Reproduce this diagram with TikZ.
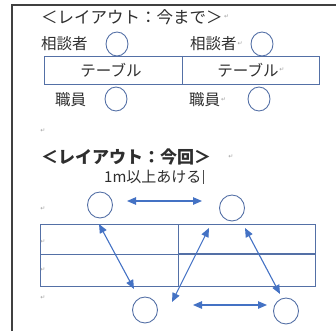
\documentclass[tikz,border=0pt]{standalone}
\usepackage{fontspec}
\setmainfont{Liberation Serif}
\newfontfamily\jp{Noto Sans CJK JP}
\newfontfamily\sym{DejaVu Sans}
\usetikzlibrary{arrows.meta,shapes.geometric}
\definecolor{lineblue}{HTML}{5470A6}
\definecolor{arrowblue}{HTML}{4472C4}
\definecolor{txt}{HTML}{2E2E2E}
\definecolor{retc}{HTML}{A0A0A0}
\tikzset{
  seat/.style={draw=lineblue,line width=0.9pt,ellipse,inner sep=0pt,minimum width=22pt,minimum height=24pt},
  seatb/.style={draw=lineblue,line width=0.9pt,ellipse,inner sep=0pt,minimum width=25pt,minimum height=26pt},
  lbl/.style={font=\jp\fontsize{15.5}{16}\selectfont,text=txt,inner sep=0pt,anchor=west},
  ttl/.style={font=\jp\fontsize{16.5}{17}\selectfont,text=txt,inner sep=0pt,anchor=west},
  ret/.style={font=\sym\fontsize{6}{6}\selectfont,text=retc,inner sep=0pt},
  tbl/.style={draw=lineblue,line width=0.9pt},
  darr/.style={draw=arrowblue,line width=1.1pt,{Triangle[length=9pt,width=7.5pt]}-{Triangle[length=9pt,width=7.5pt]}},
  frame/.style={draw=black!75,line width=1.3pt}
}
\begin{document}
\begin{tikzpicture}[x=1pt,y=-1pt]
\useasboundingbox (0,0) rectangle (336,331);
% frame
\coordinate (f1) at (12,331);
\coordinate (f2) at (12,5);
\coordinate (f3) at (336,5);
\draw[frame] (f1) -- (f2) -- (f3);
% ---- section 1
\node[ttl] (t1) at (41,17) {＜レイアウト：今まで＞};
\node[ret,anchor=west] (r1) at ([xshift=1pt]t1.east) {↵};
\node[lbl] (s1) at (41,44) {相談者};
\node[seat] (c1) at (117,44) {};
\node[lbl] (s2) at (190,44) {相談者};
\node[ret,anchor=west] (r2) at ([xshift=0.5pt]s2.east) {↵};
\node[seat] (c2) at (262,44) {};
\node[tbl,draw,rectangle,minimum width=275pt,minimum height=28pt,inner sep=0pt] (tab1) at (181.5,70) {};
\coordinate (d1) at (182,56);
\coordinate (d2) at (182,84);
\draw[tbl] (d1) -- (d2);
\node[lbl,anchor=center] (tb1) at (111,70) {テーブル};
\node[lbl,anchor=center] (tb2) at (248,70) {テーブル};
\node[ret,anchor=west] (r3) at ([xshift=0.5pt]tb2.east) {↵};
\node[lbl] (w1) at (55,100) {職員};
\node[seat] (c3) at (116,99) {};
\node[lbl] (w2) at (189,100) {職員};
\node[ret,anchor=west] (r4) at ([xshift=0.5pt]w2.east) {↵};
\node[seat] (c4) at (259,99) {};
\node[ret] (r5) at (43,131) {↵};
% ---- section 2
\node[ttl,font=\jp\bfseries\fontsize{17}{18}\selectfont] (t2) at (41,157) {＜レイアウト：今回＞};
\node[ret] (r6) at (231,157) {↵};
\node[lbl,font=\jp\fontsize{15}{16}\selectfont] (m1) at (104,177) {1m以上あける};
\coordinate (cur1) at ([xshift=2pt,yshift=7pt]m1.east);
\coordinate (cur2) at ([xshift=2pt,yshift=-7pt]m1.east);
\draw[black!70,line width=0.5pt] (cur1) -- (cur2);
\node[seatb] (e1) at (100,205) {};
\node[seatb] (e2) at (232,208) {};
\coordinate (h1) at (127,201);
\coordinate (h2) at (202,201);
\draw[darr] (h1) -- (h2);
\node[ret] (r7) at (43,209) {↵};
\node[tbl,draw,rectangle,minimum width=275pt,minimum height=62pt,inner sep=0pt] (tab2) at (177.5,255) {};
\coordinate (m2a) at (40,254);
\coordinate (m2b) at (178,254);
\coordinate (m2c) at (315,254);
\draw[tbl] (m2a) -- (m2b);
\draw[tbl,line width=1.3pt] (m2b) -- (m2c);
\coordinate (v1) at (178,224);
\coordinate (v2) at (178,286);
\draw[tbl] (v1) -- (v2);
\node[ret] (r8) at (43,242) {↵};
\node[ret] (r9) at (43,270) {↵};
\node[ret] (r10) at (43,298) {↵};
\coordinate (a1s) at (99,224);
\coordinate (a1e) at (134,289);
\draw[darr] (a1s) -- (a1e);
\coordinate (a2s) at (172,302);
\coordinate (a2e) at (209,228);
\draw[darr] (a2s) -- (a2e);
\coordinate (a3s) at (245,228);
\coordinate (a3e) at (280,294);
\draw[darr] (a3s) -- (a3e);
\coordinate (a4s) at (193,305);
\coordinate (a4e) at (267,305);
\draw[darr] (a4s) -- (a4e);
\node[seatb] (g1) at (145,310) {};
\node[seatb] (g2) at (286,311) {};
\end{tikzpicture}
\end{document}
